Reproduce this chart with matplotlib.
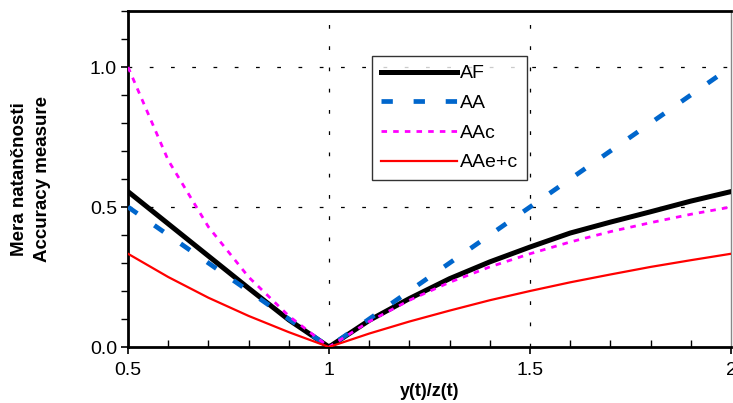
import matplotlib
matplotlib.use("Agg")
import matplotlib.pyplot as plt
from matplotlib.ticker import MultipleLocator

plt.rcParams['font.family'] = ['Liberation Sans', 'DejaVu Sans']

x = [0.5, 0.6, 0.7, 0.8, 0.9, 1.0, 1.1, 1.2, 1.3, 1.4, 1.5, 1.6, 1.7, 1.8, 1.9, 2.0]
af = [0.555, 0.44, 0.325, 0.21, 0.097, 0.0, 0.095, 0.173, 0.244, 0.304, 0.357, 0.407, 0.446, 0.483, 0.521, 0.555]
aa = [0.5, 0.4, 0.3, 0.2, 0.1, 0.0, 0.1, 0.2, 0.3, 0.4, 0.5, 0.6, 0.7, 0.8, 0.9, 1.0]
aac = [1.0, 0.667, 0.429, 0.25, 0.111, 0.0, 0.091, 0.167, 0.231, 0.286, 0.333, 0.375, 0.412, 0.444, 0.474, 0.5]
aaec = [0.333, 0.25, 0.176, 0.111, 0.053, 0.0, 0.048, 0.091, 0.13, 0.167, 0.2, 0.231, 0.259, 0.286, 0.31, 0.333]

xticks = [0.5, 1.0, 1.5, 2.0]
xticklabels = ["0.5", "1", "1.5", "2"]
yticks = [0.0, 0.5, 1.0]
yticklabels = ["0.0", "0.5", "1.0"]

fig = plt.figure(figsize=(7.33, 4.03), dpi=100)
ax = fig.add_axes([128/733, 1 - 347/403, 603/733, 336/403])

ax.plot(x, af, color='black', lw=3.6, label='AF', zorder=3)
ax.plot(x, aa, color='#0066CC', lw=3.4, dashes=(2.4, 4.4), label='AA', zorder=4)
ax.plot(x, aac, color='#FF00FF', lw=2.0, dashes=(2.0, 2.2), label='AAc', zorder=5)
ax.plot(x, aaec, color='#FF0000', lw=1.6, label='AAe+c', zorder=6)

ax.set_xlim(0.5, 2.0)
ax.set_ylim(0.0, 1.2)

for yv in [0.5, 1.0]:
    ax.axhline(yv, color='black', lw=0.9, dashes=(3, 14), zorder=1)
for xv in [1.0, 1.5]:
    ax.axvline(xv, color='black', lw=0.9, dashes=(3, 14), zorder=1)

ax.set_xticks(xticks)
ax.set_xticklabels(xticklabels)
ax.set_yticks(yticks)
ax.set_yticklabels(yticklabels)
ax.xaxis.set_minor_locator(MultipleLocator(0.1))
ax.yaxis.set_minor_locator(MultipleLocator(0.1))
ax.tick_params(axis='x', which='major', direction='out', length=5, width=1.2, labelsize=14, pad=6)
ax.tick_params(axis='x', which='minor', direction='in', length=5, width=1.0)
ax.tick_params(axis='y', which='major', direction='out', length=5, width=1.2, labelsize=14, pad=3)
ax.tick_params(axis='y', which='minor', direction='out', length=5, width=1.0)

for s in ['left', 'bottom', 'top']:
    ax.spines[s].set_linewidth(2.0)
    ax.spines[s].set_color('black')
ax.spines['right'].set_linewidth(1.0)
ax.spines['right'].set_color('#888888')

ax.set_xlabel('y(t)/z(t)', fontsize=13, fontweight='bold', labelpad=3)
ax.set_ylabel('Mera natančnosti\nAccuracy measure', fontsize=13.5, fontweight='bold',
              labelpad=28, linespacing=1.45)

leg = ax.legend(loc='upper left', bbox_to_anchor=(0.405, 0.866), fontsize=14,
                frameon=True, fancybox=False, handlelength=3.9, handletextpad=0.15,
                borderpad=0.45, labelspacing=0.62, borderaxespad=0)
leg.get_frame().set_edgecolor('black')
leg.get_frame().set_linewidth(1.0)
leg.set_zorder(10)

fig.savefig('out.png', dpi=100)
